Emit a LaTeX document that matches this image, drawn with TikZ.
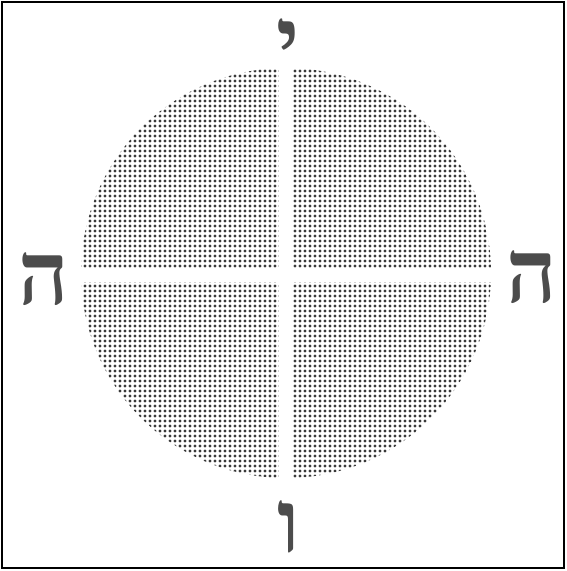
\documentclass[tikz,border=0pt]{standalone}
\usepackage{fontspec}
\newfontfamily\hebfont[Script=Hebrew]{Liberation Serif}
\TeXXeTstate=1
\usetikzlibrary{patterns.meta}

\begin{document}
\begin{tikzpicture}[x=1pt,y=-1pt]
\tikzset{letter/.style={font=\hebfont\bfseries\fontsize{88}{90}\selectfont,text=gray!60!black,inner sep=0pt,anchor=base,text depth=0pt,text height=52pt}}
\useasboundingbox (0,0) rectangle (566,571);
\draw[line width=1.6pt] (2,2) rectangle (564,568);
\pattern[pattern={Dots[distance=5pt,radius=1.6pt]},pattern color=gray!45!black] (286,273) circle (205pt);
\fill[white] (279,60) rectangle (292,485);
\fill[white] (70,268) rectangle (500,282);
\node[letter] (yod) at (288,70) {\beginR י\endR};
\node[letter] (heL) at (44,304) {\beginR ה\endR};
\node[letter] (heR) at (532,302) {\beginR ה\endR};
\node[letter] (vav) at (289,552) {\beginR ו\endR};
\end{tikzpicture}
\end{document}
